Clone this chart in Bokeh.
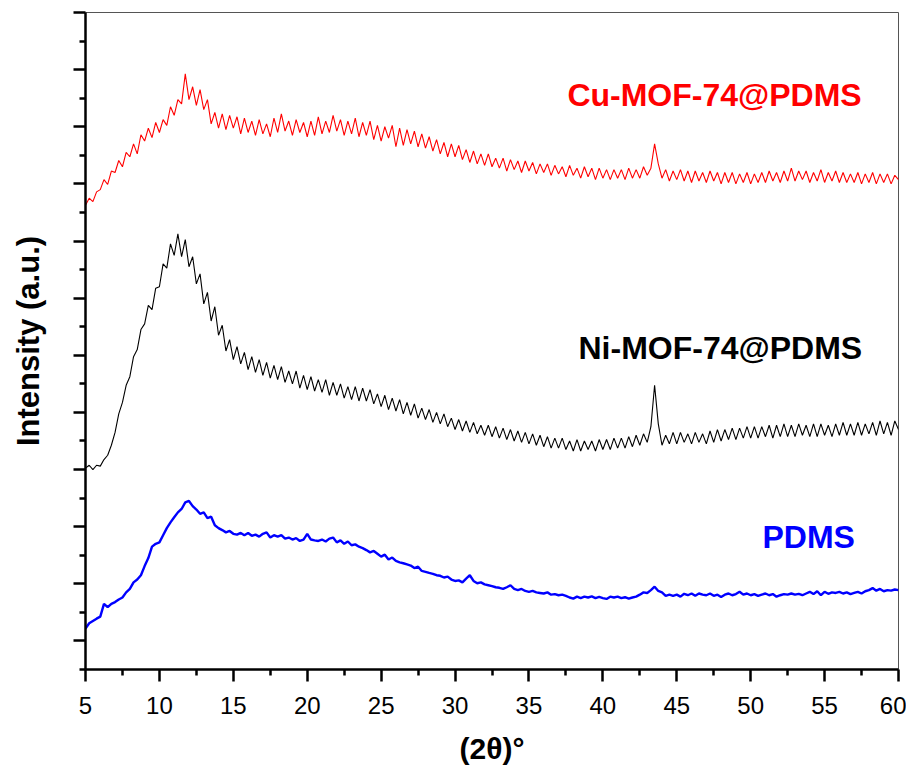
import numpy as np
from bokeh.plotting import figure
from bokeh.models import FixedTicker, Range1d
from bokeh.core.properties import value
from bokeh.embed import file_html
from bokeh.resources import INLINE

# 2-theta grid (degrees), 0.25 deg steps from 5 to 60
two_theta = np.arange(5.0, 60.0001, 0.25)

# Cu-MOF-74@PDMS (offset, arbitrary units)
cu_mof = [
    16.25, 16.50, 16.38, 16.72, 16.80, 17.15, 16.98, 17.45, 17.40, 17.82, 17.60, 18.10,
    17.95, 18.40, 18.05, 18.72, 18.50, 18.95, 18.62, 19.15, 18.80, 19.25, 19.05, 19.70,
    19.40, 19.95, 19.80, 20.85, 19.95, 20.40, 19.75, 20.30, 19.60, 19.95, 19.10, 19.50,
    18.95, 19.45, 18.90, 19.40, 18.95, 19.35, 18.75, 19.30, 18.80, 19.20, 18.70, 19.25,
    18.75, 19.10, 18.65, 19.30, 18.80, 19.45, 18.85, 19.20, 18.70, 19.25, 18.80, 19.15,
    18.65, 19.20, 18.70, 19.35, 18.75, 19.20, 18.80, 19.40, 18.85, 19.25, 18.70, 19.20,
    18.75, 19.30, 18.65, 19.15, 18.70, 19.20, 18.55, 19.05, 18.50, 19.00, 18.60, 19.05,
    18.30, 18.95, 18.35, 18.90, 18.40, 18.85, 18.30, 18.75, 18.25, 18.65, 18.15, 18.55,
    18.05, 18.45, 17.95, 18.40, 17.95, 18.35, 17.85, 18.20, 17.75, 18.15, 17.70, 18.05,
    17.65, 18.05, 17.60, 17.90, 17.55, 17.90, 17.45, 17.85, 17.50, 17.80, 17.40, 17.80,
    17.45, 17.75, 17.35, 17.70, 17.40, 17.70, 17.30, 17.65, 17.35, 17.60, 17.25, 17.65,
    17.30, 17.55, 17.20, 17.60, 17.25, 17.55, 17.15, 17.55, 17.20, 17.50, 17.15, 17.50,
    17.20, 17.50, 17.15, 17.55, 17.20, 17.50, 17.20, 17.60, 17.30, 17.55, 18.40, 17.70,
    17.20, 17.50, 17.10, 17.45, 17.15, 17.50, 17.10, 17.45, 17.05, 17.45, 17.10, 17.40,
    17.05, 17.45, 17.10, 17.40, 17.00, 17.40, 17.05, 17.40, 17.00, 17.35, 17.05, 17.40,
    17.00, 17.35, 17.05, 17.40, 17.05, 17.45, 17.10, 17.40, 17.05, 17.45, 17.10, 17.55,
    17.10, 17.45, 17.15, 17.45, 17.05, 17.40, 17.10, 17.50, 17.05, 17.40, 17.10, 17.45,
    17.05, 17.40, 17.05, 17.35, 17.05, 17.40, 17.00, 17.35, 17.05, 17.40, 17.00, 17.35,
    17.05, 17.35, 17.00, 17.30, 17.15,
]

# Ni-MOF-74@PDMS
ni_mof = [
    7.05, 7.15, 7.00, 7.15, 7.12, 7.35, 7.50, 7.85, 8.30, 8.95, 9.35, 9.95,
    10.25, 10.95, 11.20, 11.90, 12.10, 12.75, 12.60, 13.35, 13.40, 14.20, 14.05, 14.90,
    14.50, 15.25, 14.45, 15.05, 14.10, 14.45, 13.50, 13.85, 12.80, 13.20, 12.20, 12.70,
    11.70, 12.05, 11.15, 11.55, 10.85, 11.30, 10.70, 11.10, 10.50, 10.95, 10.40, 10.85,
    10.30, 10.75, 10.20, 10.65, 10.15, 10.60, 10.05, 10.45, 10.00, 10.45, 9.85, 10.30,
    9.80, 10.25, 9.75, 10.15, 9.70, 10.15, 9.60, 10.05, 9.60, 10.00, 9.50, 9.90,
    9.45, 9.90, 9.40, 9.85, 9.40, 9.80, 9.30, 9.65, 9.20, 9.60, 9.10, 9.50,
    9.05, 9.45, 8.95, 9.35, 8.90, 9.30, 8.80, 9.15, 8.75, 9.10, 8.65, 9.00,
    8.60, 8.95, 8.50, 8.80, 8.40, 8.75, 8.35, 8.70, 8.30, 8.65, 8.25, 8.55,
    8.20, 8.55, 8.15, 8.50, 8.10, 8.45, 8.05, 8.40, 8.00, 8.35, 7.95, 8.30,
    7.90, 8.25, 7.85, 8.20, 7.80, 8.15, 7.75, 8.10, 7.75, 8.10, 7.70, 8.00,
    7.65, 8.05, 7.65, 8.00, 7.70, 8.00, 7.65, 8.05, 7.70, 8.05, 7.70, 8.10,
    7.75, 8.10, 7.75, 8.15, 7.80, 8.20, 7.85, 8.25, 7.95, 8.50, 9.95, 8.60,
    7.85, 8.20, 7.90, 8.30, 7.90, 8.30, 7.95, 8.25, 7.90, 8.30, 7.95, 8.25,
    7.90, 8.35, 7.95, 8.40, 8.00, 8.40, 8.05, 8.45, 8.05, 8.45, 8.10, 8.50,
    8.10, 8.50, 8.10, 8.50, 8.15, 8.55, 8.10, 8.55, 8.15, 8.60, 8.15, 8.55,
    8.15, 8.60, 8.20, 8.55, 8.15, 8.60, 8.15, 8.60, 8.20, 8.55, 8.15, 8.60,
    8.20, 8.65, 8.20, 8.60, 8.20, 8.65, 8.20, 8.60, 8.25, 8.65, 8.20, 8.70,
    8.25, 8.65, 8.20, 8.70, 8.40,
]

# PDMS
pdms = [
    1.43, 1.62, 1.70, 1.78, 1.85, 2.30, 2.18, 2.30, 2.36, 2.45, 2.52, 2.70,
    2.82, 3.05, 3.15, 3.30, 3.62, 3.90, 4.30, 4.40, 4.45, 4.70, 4.95, 5.15,
    5.33, 5.50, 5.62, 5.85, 5.90, 5.72, 5.60, 5.45, 5.50, 5.30, 5.35, 5.05,
    4.95, 4.88, 4.80, 4.85, 4.75, 4.72, 4.78, 4.70, 4.78, 4.68, 4.72, 4.65,
    4.75, 4.80, 4.62, 4.70, 4.65, 4.70, 4.58, 4.62, 4.55, 4.60, 4.50, 4.55,
    4.75, 4.55, 4.52, 4.50, 4.55, 4.48, 4.58, 4.62, 4.45, 4.52, 4.40, 4.48,
    4.35, 4.38, 4.30, 4.25, 4.18, 4.10, 4.15, 4.05, 3.95, 4.02, 3.85, 3.92,
    3.80, 3.75, 3.72, 3.68, 3.64, 3.55, 3.60, 3.45, 3.42, 3.38, 3.35, 3.30,
    3.28, 3.22, 3.25, 3.15, 3.10, 3.12, 3.05, 3.18, 3.30, 3.10, 3.02, 3.05,
    2.98, 2.95, 2.92, 2.88, 2.86, 2.82, 2.88, 2.95, 2.82, 2.78, 2.82, 2.75,
    2.72, 2.75, 2.70, 2.68, 2.66, 2.70, 2.62, 2.64, 2.60, 2.62, 2.58, 2.52,
    2.48, 2.55, 2.50, 2.55, 2.52, 2.56, 2.50, 2.54, 2.50, 2.47, 2.55, 2.52,
    2.55, 2.50, 2.53, 2.48, 2.52, 2.55, 2.62, 2.70, 2.68, 2.78, 2.90, 2.75,
    2.70, 2.58, 2.62, 2.58, 2.62, 2.55, 2.65, 2.60, 2.66, 2.58, 2.66, 2.62,
    2.60, 2.66, 2.58, 2.62, 2.54, 2.62, 2.66, 2.60, 2.64, 2.72, 2.62, 2.66,
    2.60, 2.64, 2.58, 2.62, 2.66, 2.60, 2.64, 2.55, 2.60, 2.64, 2.62, 2.66,
    2.62, 2.65, 2.60, 2.66, 2.72, 2.64, 2.74, 2.60, 2.72, 2.65, 2.70, 2.68,
    2.72, 2.66, 2.70, 2.64, 2.68, 2.72, 2.66, 2.74, 2.78, 2.85, 2.76, 2.82,
    2.74, 2.78, 2.76, 2.80, 2.78,
]

x_ticks = [5, 10, 15, 20, 25, 30, 35, 40, 45, 50, 55, 60]
y_ticks = list(range(1, 24, 2))
series_names = ["Cu-MOF-74@PDMS", "Ni-MOF-74@PDMS", "PDMS"]

FONT = "Liberation Sans"

p = figure(width=906, height=768, output_backend="svg", toolbar_location=None,
           x_range=Range1d(5, 60), y_range=Range1d(0, 23),
           min_border_left=85, min_border_right=8, min_border_top=12, min_border_bottom=99)
p.background_fill_color = "white"
p.border_fill_color = "white"
p.outline_line_color = "#555555"
p.outline_line_width = 1
p.xgrid.visible = False
p.ygrid.visible = False

p.line(two_theta, cu_mof, color="#ff0000", line_width=1.1)
p.line(two_theta, ni_mof, color="#000000", line_width=1.1)
p.line(two_theta, pdms, color="#0000ff", line_width=2.4)

label_font = value(FONT)
p.text(x=[37.6], y=[20.1], text=[series_names[0]], text_color="#ff0000",
       text_font=label_font, text_font_size="32px", text_font_style="bold",
       text_baseline="middle", text_align="left")
p.text(x=[38.35], y=[11.25], text=[series_names[1]], text_color="#000000",
       text_font=label_font, text_font_size="32px", text_font_style="bold",
       text_baseline="middle", text_align="left")
p.text(x=[50.8], y=[4.65], text=[series_names[2]], text_color="#0000ff",
       text_font=label_font, text_font_size="32px", text_font_style="bold",
       text_baseline="middle", text_align="left")

xminor = [v + 2.5 for v in x_ticks[:-1]]
p.xaxis.ticker = FixedTicker(ticks=x_ticks, minor_ticks=xminor)
p.yaxis.ticker = FixedTicker(ticks=y_ticks, minor_ticks=list(range(0, 24, 2)))

for ax in (p.xaxis[0], p.yaxis[0]):
    ax.axis_line_width = 2.5
    ax.axis_line_color = "black"
    ax.major_tick_line_width = 2.5
    ax.minor_tick_line_width = 2.5
    ax.major_tick_in = 0
    ax.minor_tick_in = 0
    ax.major_tick_out = 12
    ax.minor_tick_out = 6
    ax.axis_label_text_font = FONT
    ax.axis_label_text_font_style = "bold"
    ax.axis_label_text_color = "black"
    ax.major_label_text_font = FONT
    ax.major_label_text_color = "black"

p.xaxis.major_label_text_font_size = "24px"
p.xaxis.major_label_standoff = 15
p.xaxis.axis_label = "(2θ)°"
p.xaxis.axis_label_text_font_size = "30px"
p.xaxis.axis_label_standoff = 15

p.yaxis.major_label_overrides = {t: "" for t in y_ticks}
p.yaxis.major_label_text_font_size = "12px"
p.yaxis.major_label_standoff = 0
p.yaxis.axis_label = "Intensity (a.u.)"
p.yaxis.axis_label_text_font_size = "31px"
p.yaxis.axis_label_standoff = 28

open("out.html", "w").write(file_html(p, INLINE))
